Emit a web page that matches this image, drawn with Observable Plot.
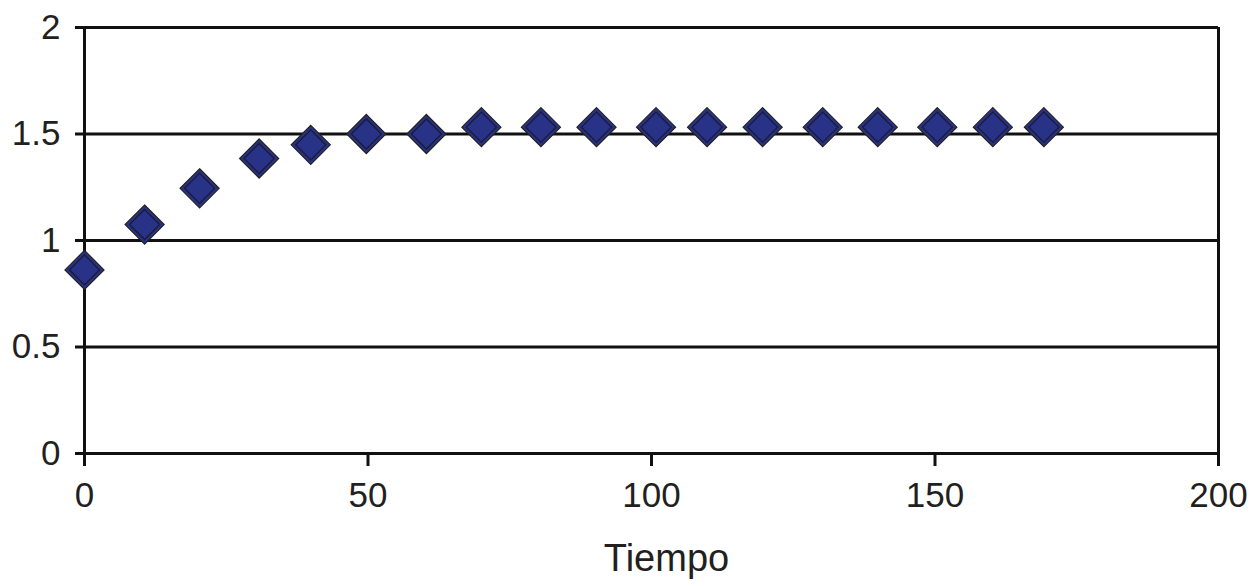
<!DOCTYPE html>
<html>
<head>
<meta charset="utf-8">
<script src="https://cdn.jsdelivr.net/npm/d3@7"></script>
<script src="https://cdn.jsdelivr.net/npm/@observablehq/plot@0.6"></script>
<style>
  html, body { margin: 0; padding: 0; background: #fff; }
  #chart svg { display: block; }
</style>
</head>
<body>
<div id="chart"></div>
<script>
const tiempo = [0, 10.6, 20.3, 30.8, 39.9, 49.7, 60.3, 70, 80.5, 90.3, 100.8, 109.8, 119.6, 130.2, 139.9, 150.4, 160.2, 169.2];
const valores = [0.862, 1.075, 1.245, 1.385, 1.449, 1.5, 1.5, 1.532, 1.532, 1.532, 1.532, 1.532, 1.532, 1.532, 1.532, 1.532, 1.532, 1.532];
const xTicks = [0, 50, 100, 150, 200];
const yTicks = [0, 0.5, 1, 1.5, 2];
const xLabel = "Tiempo";

const data = tiempo.map((t, i) => ({t, v: valores[i]}));
const ink = "#111";

const chart = Plot.plot({
  width: 1256,
  height: 586,
  marginLeft: 84,
  marginRight: 38,
  marginTop: 27,
  marginBottom: 133,
  style: {fontFamily: "'Liberation Sans', Arial, sans-serif", color: "#231f20", background: "#fff"},
  x: {domain: [0, 200]},
  y: {domain: [0, 2]},
  marks: [
    Plot.ruleY(yTicks, {stroke: ink, strokeWidth: 3}),
    Plot.ruleX([0, 200], {stroke: ink, strokeWidth: 3}),
    Plot.axisY({ticks: yTicks, tickFormat: d => String(d), tickSize: 9, tickPadding: 15, strokeWidth: 3, stroke: ink, fontSize: 35, label: null}),
    Plot.axisX({ticks: xTicks, tickFormat: d => String(d), tickSize: 13, tickPadding: 16, strokeWidth: 3, stroke: ink, fontSize: 35, label: null}),
    Plot.text([xLabel], {frameAnchor: "bottom", dy: 117, dx: 15, fontSize: 38, fill: "#231f20"}),
    Plot.dot(data, {x: "t", y: "v", symbol: "diamond2", r: 17.6, fill: "#283387", stroke: "#222", strokeWidth: 1.2}),
    Plot.dot(data, {x: "t", y: "v", symbol: "diamond2", r: 13.6, fill: "none", stroke: "#1b1d3f", strokeWidth: 1.5})
  ]
});
document.getElementById("chart").appendChild(chart);
</script>
</body>
</html>
